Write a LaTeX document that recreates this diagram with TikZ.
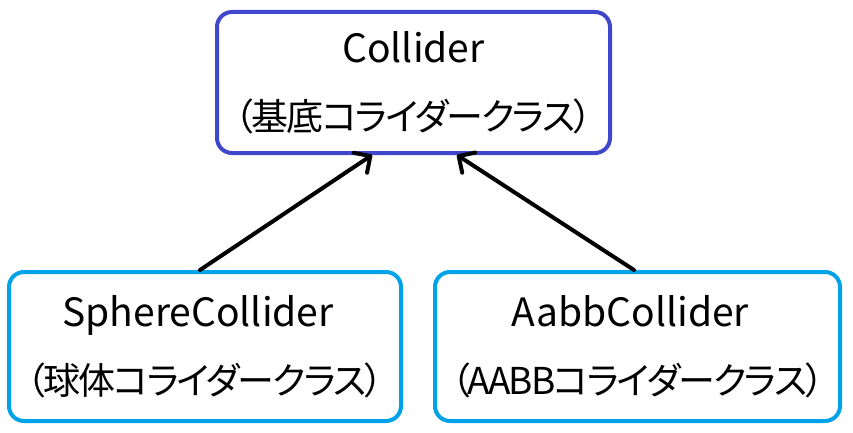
\documentclass[tikz,border=0pt]{standalone}
\usepackage{fontspec}
\setmainfont{Noto Sans CJK JP}[RawFeature=+palt]
\newfontfamily\jpfont{Noto Sans CJK JP}[RawFeature=+palt, LetterSpace=-5]
\usetikzlibrary{arrows.meta,calc}
\definecolor{baseblue}{HTML}{3F48CC}
\definecolor{subblue}{HTML}{00A2E8}
\newcommand{\jpline}[1]{{\jpfont\fontsize{37}{68}\selectfont #1}}
\tikzset{
  box/.style={draw, line width=4pt, rounded corners=15pt, inner sep=0pt, align=center, font=\fontsize{39}{68}\selectfont},
  inh/.style={line width=4pt, line cap=round, -{Straight Barb[length=12pt,width=24pt,line cap=round,line join=round]}},
}
\begin{document}
\begin{tikzpicture}[x=1pt,y=1pt]
\useasboundingbox (0,0) rectangle (853,432);
\node[box, draw=baseblue, minimum width=393pt, minimum height=141pt] (base) at (413.5,349.5)
  {Collider\\\jpline{（基底コライダークラス）}};
\node[box, draw=subblue, minimum width=392pt, minimum height=149pt] (sphere) at (205,85.5)
  {SphereCollider\hspace*{14pt}\\\jpline{（球体コライダークラス）}};
\node[box, draw=subblue, minimum width=405pt, minimum height=149pt] (aabb) at (637.5,85.5)
  {AabbCollider\hspace*{14pt}\\\jpline{（AABBコライダークラス）}};
\draw[inh] ($(sphere.north)+(-5,0)$) -- ($(base.south)+(-41.5,0)$);
\draw[inh] ($(aabb.north)+(-3.5,0)$) -- ($(base.south)+(43.5,0)$);
\end{tikzpicture}
\end{document}
